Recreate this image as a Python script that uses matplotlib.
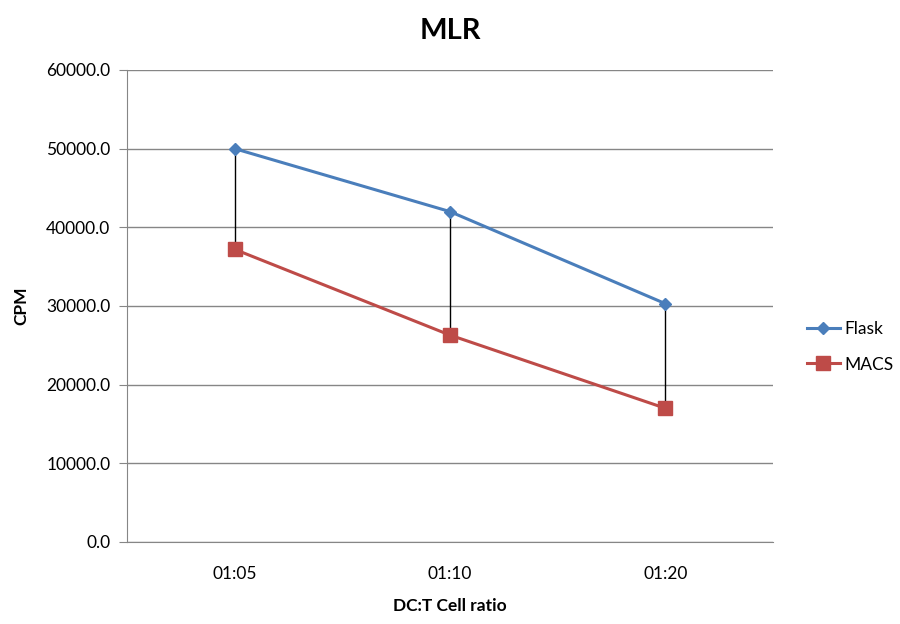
import matplotlib
matplotlib.use("Agg")
import matplotlib.pyplot as plt

categories = ["01:05", "01:10", "01:20"]
flask = [50000, 42000, 30300]
macs = [37200, 26300, 17000]
yticks = [0, 10000, 20000, 30000, 40000, 50000, 60000]

plt.rcParams['font.family'] = ['Lato', 'DejaVu Sans']

fig = plt.figure(figsize=(9, 6.24), dpi=100)
ax = fig.add_axes([127/900, 1-542/624, 646/900, 472/624])

x = list(range(len(categories)))
grid_c = "#868686"
fs = 12.5

ax.set_ylim(0, 60000)
ax.set_xlim(-0.5, len(categories) - 0.5)
ax.set_yticks(yticks)
ax.set_yticklabels([f"{v:.1f}" for v in yticks], fontsize=fs)
ax.set_xticks(x)
ax.set_xticklabels(categories, fontsize=fs)
ax.yaxis.grid(True, color=grid_c, linewidth=1)
ax.set_axisbelow(True)
for s in ["top", "right"]:
    ax.spines[s].set_visible(False)
ax.spines["left"].set_color(grid_c)
ax.spines["bottom"].set_color(grid_c)
ax.tick_params(axis="y", length=6, color=grid_c, pad=6)
ax.tick_params(axis="x", length=0, pad=17)

# high-low lines
ax.vlines(x, macs, flask, colors="black", linewidth=1, zorder=3)

ax.plot(x, flask, color="#4A7EBB", linewidth=2.2, marker="D", markersize=6.5,
        markerfacecolor="#4A7EBB", markeredgecolor="#4A7EBB", zorder=4, label="Flask")
ax.plot(x, macs, color="#BE4B48", linewidth=2.2, marker="s", markersize=10,
        markerfacecolor="#BE4B48", markeredgecolor="#BE4B48", zorder=4, label="MACS")

ax.set_title("MLR", fontsize=21, fontweight="bold", pad=22)
ax.set_ylabel("CPM", fontsize=fs, fontweight="bold", labelpad=12)
ax.set_xlabel("DC:T Cell ratio", fontsize=fs, fontweight="bold", labelpad=12)

leg = ax.legend(loc="center left", bbox_to_anchor=(791/900, 1-347/624),
                bbox_transform=fig.transFigure, frameon=False, fontsize=fs,
                handlelength=1.9, handletextpad=0.25, labelspacing=1.1)

fig.savefig("out.png", dpi=100)
